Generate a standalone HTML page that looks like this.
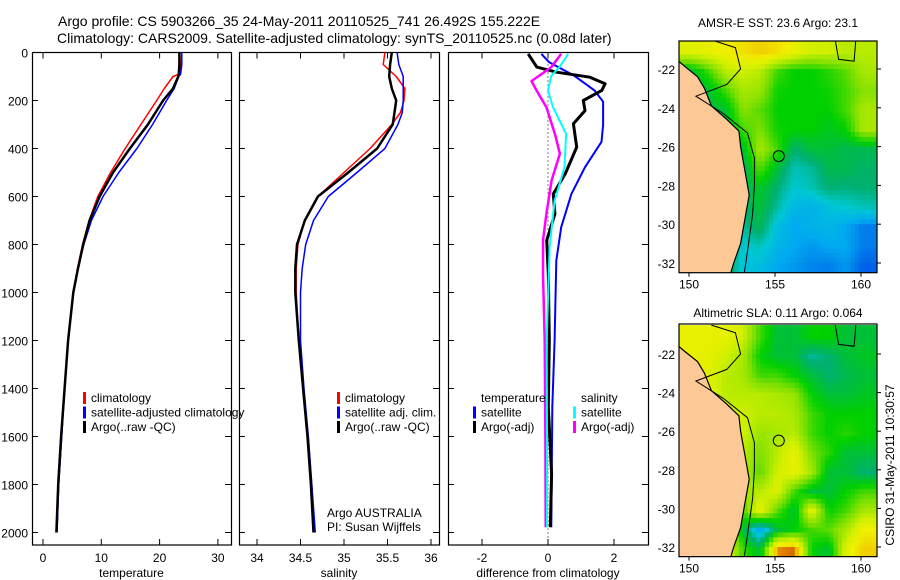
<!DOCTYPE html>
<html><head><meta charset="utf-8"><style>
body{margin:0;background:#fff;}
svg{display:block;font-family:"Liberation Sans",sans-serif;}
</style></head><body>
<svg id="fig" width="900" height="580" viewBox="0 0 900 580" xmlns="http://www.w3.org/2000/svg">
<rect width="900" height="580" fill="#fff"/>
<text x="58" y="26" font-size="14">Argo profile: CS 5903266_35 24-May-2011 20110525_741 26.492S 155.222E</text>
<text x="57" y="43" font-size="14">Climatology: CARS2009. Satellite-adjusted climatology: synTS_20110525.nc (0.08d later)</text>
<g id="plots"></g>
<text x="778" y="27" font-size="12" text-anchor="middle">AMSR-E SST: 23.6 Argo: 23.1</text>
<text x="778" y="317" font-size="12" text-anchor="middle">Altimetric SLA: 0.11 Argo: 0.064</text>
<text x="0" y="0" font-size="12" text-anchor="middle" transform="translate(894,465) rotate(-90)">CSIRO 31-May-2011 10:30:57</text>
</svg>
<script>
// ---------- profile data ----------
const tDepth=[0,50,90,100,150,200,300,400,500,600,700,800,900,1000,1200,1400,1600,1800,2000];
const tClim=[23.8,23.7,23.4,22.3,20.8,19.5,16.8,14.1,11.6,9.4,7.9,6.8,5.9,5.2,4.3,3.7,3.2,2.7,2.4];
const tSat=[23.8,23.8,23.6,23.3,22.5,21.2,18.8,16.1,13.0,10.3,8.3,7.0,6.0,5.2,4.3,3.7,3.2,2.7,2.4];
const tArgo=[23.4,23.4,23.3,23.2,22.3,20.6,18.0,14.9,12.0,9.7,8.0,6.9,6.0,5.2,4.3,3.7,3.1,2.6,2.3];
const sDepth=[0,50,100,150,200,250,300,400,500,600,700,800,900,1000,1200,1400,1600,1800,2000];
const sClim=[35.47,35.45,35.6,35.7,35.69,35.65,35.55,35.3,35.0,34.7,34.55,34.47,34.45,34.45,34.48,34.53,34.59,34.63,34.66];
const sSat=[35.61,35.63,35.68,35.68,35.68,35.67,35.62,35.47,35.15,34.82,34.65,34.56,34.52,34.5,34.5,34.54,34.59,34.63,34.67];
const sArgo=[35.55,35.53,35.52,35.55,35.6,35.58,35.56,35.38,35.05,34.7,34.55,34.46,34.44,34.44,34.48,34.53,34.58,34.62,34.65];
const dTArgoDepth=[6,61,82,103,130,158,200,242,297,394,506,589,672,783,922,1200,1478,1756,1978];
const dTArgo=[-0.6,-0.34,0.26,1.27,1.73,1.63,1.07,1.12,0.77,0.87,0.52,0.16,0.21,-0.04,0.01,0.04,0.01,0.11,0.07];
const dTSatDepth=[6,40,97,158,205,303,372,478,589,728,867,1200,1478,1978];
const dTSat=[-0.2,0.03,0.8,1.41,1.67,1.67,1.62,1.12,0.71,0.4,0.25,0.2,0.13,0.1];
const dSSatDepth=[6,61,97,158,228,339,478,617,811,1200,1617,1978];
const dSSat=[0.61,0.35,0.1,0,0.15,0.55,0.5,0.2,0.05,-0.04,-0.03,-0.03];
const dSArgoDepth=[6,61,119,158,228,339,422,533,672,783,922,1200,1617,1978];
const dSArgo=[0.4,0.1,-0.5,-0.35,-0.05,0.21,0.36,0.11,-0.05,-0.15,-0.15,-0.1,-0.08,-0.07];
const depthTicks=[0,200,400,600,800,1000,1200,1400,1600,1800,2000];
const tTicks=[0,10,20,30];
const sTicks=[34,34.5,35,35.5,36];
const sTickLabels=["34","34.5","35","35.5","36"];
const dTicks=[-2,0,2];
// ---------- map data (rows lat -21..-32, cols lon 150..160) ----------
const mapLons=[150,151,152,153,154,155,156,157,158,159,160];
const mapLats=[-21,-22,-23,-24,-25,-26,-27,-28,-29,-30,-31,-32];
const sstVals=[
[.78,.8,.82,.85,.88,.85,.8,.75,.75,.72,.72],
[.5,.6,.72,.75,.72,.6,.55,.55,.58,.62,.7],
[.5,.5,.6,.7,.68,.56,.55,.55,.56,.6,.66],
[.5,.5,.5,.66,.62,.55,.55,.55,.55,.6,.7],
[.5,.5,.5,.6,.65,.56,.55,.55,.52,.55,.7],
[.5,.5,.5,.5,.7,.6,.45,.5,.5,.48,.48],
[.5,.5,.5,.45,.62,.5,.4,.42,.48,.48,.46],
[.5,.5,.5,.45,.52,.45,.38,.4,.45,.44,.45],
[.5,.5,.5,.45,.5,.42,.33,.32,.36,.38,.4],
[.5,.5,.5,.42,.48,.35,.3,.32,.33,.3,.25],
[.5,.5,.5,.38,.4,.33,.3,.28,.3,.3,.25],
[.5,.5,.5,.36,.35,.3,.28,.26,.25,.28,.22]];
const slaVals=[
[.8,.8,.8,.75,.6,.5,.5,.55,.55,.5,.5],
[.8,.8,.75,.7,.55,.5,.5,.42,.45,.5,.52],
[.8,.78,.72,.7,.6,.6,.55,.5,.45,.48,.5],
[.8,.78,.72,.72,.72,.7,.68,.55,.5,.5,.52],
[.8,.8,.75,.75,.72,.72,.7,.6,.55,.55,.55],
[.8,.8,.8,.75,.68,.7,.72,.6,.55,.58,.55],
[.8,.8,.8,.72,.65,.72,.8,.65,.58,.5,.5],
[.8,.8,.8,.72,.62,.75,.8,.7,.5,.5,.45],
[.8,.8,.8,.68,.72,.78,.6,.5,.5,.55,.6],
[.8,.8,.8,.6,.8,.62,.5,.8,.55,.6,.7],
[.8,.8,.8,.5,.3,.5,.55,.6,.62,.7,.82],
[.8,.8,.8,.6,.5,.92,.95,.55,.5,.78,.88]];
const latTicks=[-22,-24,-26,-28,-30,-32];
const lonTicks=[150,155,160];
const argoLon=155.22, argoLat=-26.49;

const NS="http://www.w3.org/2000/svg";
const root=document.getElementById('plots');
function mk(tag,attrs,parent){const e=document.createElementNS(NS,tag);for(const k in attrs)e.setAttribute(k,attrs[k]);(parent||root).appendChild(e);return e;}
const Y0=52.5,Y1=545,yD=d=>52.5+d*0.24;

function panel(name,L,R,xs,ticks,labels,xlabel,showY){
  const g=mk('g',{});
  
  
  mk('rect',{x:L+0.5,y:Y0,width:R-L,height:Y1-Y0,fill:'none',stroke:'#000','stroke-width':1.2},g);
  depthTicks.forEach(d=>{const y=yD(d);
    mk('line',{x1:L,x2:L+6,y1:y,y2:y,stroke:'#000'},g);
    mk('line',{x1:R-6,x2:R,y1:y,y2:y,stroke:'#000'},g);
    if(showY){const t=mk('text',{x:28,y:y+5,'font-size':12,'text-anchor':'end'},g);t.textContent=d;
      
      }
  });
  ticks.forEach((v,i)=>{const x=xs(v);
    mk('line',{x1:x,x2:x,y1:Y0,y2:Y0+6,stroke:'#000'},g);
    mk('line',{x1:x,x2:x,y1:Y1-6,y2:Y1,stroke:'#000'},g);
    const t=mk('text',{x:x,y:562,'font-size':12,'text-anchor':'middle'},g);t.textContent=labels[i];
    
    
  });
  const xl=mk('text',{x:(L+R)/2,y:577,'font-size':12,'text-anchor':'middle'},g);xl.textContent=xlabel;
  
  
  return g;
}
function line(g,name,xs,depths,vals,color,w){
  const d=vals.map((v,i)=>(i?'L':'M')+xs(v).toFixed(1)+','+yD(depths[i]).toFixed(1)).join('');
  const p=mk('path',{d:d,fill:'none',stroke:color,'stroke-width':w,'stroke-linejoin':'round'},g);
  
  
}
function legend(g,x,y,items){
  items.forEach((it,i)=>{
    if(it.c)mk('rect',{x:x,y:y+i*14.5-10,width:3,height:12,fill:it.c},g);
    const t=mk('text',{x:x+8,y:y+i*14.5,'font-size':12},g);t.textContent=it.t;
    
    
  });
}
// temperature panel
const xT=v=>43+5.83*v;
let g1=panel('temperature-panel',32,231,xT,tTicks,tTicks.map(String),'temperature',true);
line(g1,'temp-climatology-line',xT,tDepth,tClim,'#f00',1.5);
line(g1,'temp-satellite-line',xT,tDepth,tSat,'#00f',1.5);
line(g1,'temp-argo-line',xT,tDepth,tArgo,'#000',2.5);
legend(g1,83,402,[{c:'#f00',t:'climatology'},{c:'#00f',t:'satellite-adjusted climatology'},{c:'#000',t:'Argo(..raw -QC)'}]);
// salinity panel
const xS=v=>257+87*(v-34);
let g2=panel('salinity-panel',239,439,xS,sTicks,sTickLabels,'salinity',false);
line(g2,'sal-climatology-line',xS,sDepth,sClim,'#f00',1.5);
line(g2,'sal-satellite-line',xS,sDepth,sSat,'#00f',1.5);
line(g2,'sal-argo-line',xS,sDepth,sArgo,'#000',2.5);
legend(g2,337,402,[{c:'#f00',t:'climatology'},{c:'#00f',t:'satellite adj. clim.'},{c:'#000',t:'Argo(..raw -QC)'}]);
let ag=mk('text',{x:327,y:517,'font-size':12},g2);ag.textContent='Argo AUSTRALIA';


let pi=mk('text',{x:327,y:531,'font-size':12},g2);pi.textContent='PI: Susan Wijffels';


// difference panel
const xDf=v=>548+33*v;
let g3=panel('difference-panel',448,648,xDf,dTicks,dTicks.map(String),'difference from climatology',false);
mk('line',{x1:xDf(0),x2:xDf(0),y1:Y0,y2:Y1,stroke:'#000','stroke-dasharray':'1,3'},g3);
line(g3,'diff-temp-satellite-line',xDf,dTSatDepth,dTSat,'#00f',2);
line(g3,'diff-temp-argo-line',xDf,dTArgoDepth,dTArgo,'#000',3);
line(g3,'diff-sal-argo-line',xDf,dSArgoDepth,dSArgo,'#f0f',2.5);
line(g3,'diff-sal-satellite-line',xDf,dSSatDepth,dSSat,'#0ff',2);
legend(g3,473,402,[{c:null,t:'temperature'},{c:'#00f',t:'satellite'},{c:'#000',t:'Argo(-adj)'}]);
legend(g3,573,402,[{c:null,t:'salinity'},{c:'#0ff',t:'satellite'},{c:'#f0f',t:'Argo(-adj)'}]);

// ---------- maps ----------
const cstops=[[0,[0,0,170]],[.2,[0,80,230]],[.3,[0,170,240]],[.38,[0,200,210]],[.45,[0,176,112]],[.55,[0,208,0]],[.65,[128,224,0]],[.75,[208,240,0]],[.82,[240,240,0]],[.88,[240,208,0]],[.93,[224,128,0]],[1,[192,48,0]]];
function cmap(v){for(let i=1;i<cstops.length;i++){if(v<=cstops[i][0]){const a=cstops[i-1],b=cstops[i],f=(v-a[0])/(b[0]-a[0]);const c=a[1].map((x,k)=>Math.round(x+(b[1][k]-x)*f));return `rgb(${c})`;}}return 'rgb(192,48,0)';}
const coast=[[149.4,-21.6],[149.8,-21.9],[150.5,-22.4],[150.9,-23],[151.3,-23.9],[152.2,-24.6],[152.9,-25.2],[153.0,-26],[153.3,-27.5],[153.5,-28.5],[153.2,-30],[153,-31],[152.6,-32],[152.4,-32.6],[149.4,-32.6]];
const shelf=[[151.3,-20.5],[152.7,-20.9],[153,-22],[152.2,-22.8],[150.4,-23.4],[152,-24.3],[153.4,-25.3],[153.8,-26.6],[153.8,-28],[153.7,-29.5],[153.3,-32],[153.2,-32.6]];
const eastContour=[[158.5,-20.5],[158.7,-21.5],[159.6,-21.6],[159.7,-20.5]];
function map(name,vals,top,yAt22,yAt32){
  const L=679,R=877;
  const lx=v=>689+(v-150)*17.2, ly=v=>yAt22+(-22-v)*(yAt32-yAt22)/10;
  const bottom=ly(-32.5);
  const g=mk('g',{});
  
  
  const cid='clip'+name;
  const cp=mk('clipPath',{id:cid},g);mk('rect',{x:L,y:top,width:R-L,height:bottom-top},cp);
  const inner=mk('g',{'clip-path':`url(#${cid})`},g);
  const step=0.25;
  for(let lat=-20.5;lat>-32.6;lat-=step){for(let lon=149.4;lon<161;lon+=step){
    let fr=Math.min(Math.max(-21-lat,0),11),fc=Math.min(Math.max(lon-150,0),10);
    let r0=Math.floor(fr),c0=Math.floor(fc),r1=Math.min(r0+1,11),c1=Math.min(c0+1,10),a=fr-r0,b=fc-c0;
    let v=vals[r0][c0]*(1-a)*(1-b)+vals[r0][c1]*(1-a)*b+vals[r1][c0]*a*(1-b)+vals[r1][c1]*a*b;
    const c=mk('rect',{x:lx(lon).toFixed(1),y:ly(lat).toFixed(1),width:(step*17.2+0.6).toFixed(1),height:(step*(yAt32-yAt22)/10+0.6).toFixed(1),fill:cmap(v)},inner);
    
    
  }}
  const land=mk('path',{d:coast.map((p,i)=>(i?'L':'M')+lx(p[0]).toFixed(1)+','+ly(p[1]).toFixed(1)).join('')+'Z',fill:'#fcc896',stroke:'#000','stroke-width':1.2},inner);
  
  
  const pathOf=pts=>pts.map((p,i)=>(i?'L':'M')+lx(p[0]).toFixed(1)+','+ly(p[1]).toFixed(1)).join('');
  mk('path',{d:pathOf(shelf),fill:'none',stroke:'#000','stroke-width':1},inner);
  mk('path',{d:pathOf(eastContour),fill:'none',stroke:'#000','stroke-width':1},inner);
  const ac=mk('circle',{cx:lx(argoLon),cy:ly(argoLat),r:5.5,fill:'none',stroke:'#000','stroke-width':1},inner);
  
  
  mk('rect',{x:L,y:top,width:R-L,height:bottom-top,fill:'none',stroke:'#000','stroke-width':1.2},g);
  latTicks.forEach(v=>{const y=ly(v);mk('line',{x1:R,x2:R+4,y1:y,y2:y,stroke:'#000'},g);
    const t=mk('text',{x:L-4,y:y+5,'font-size':12,'text-anchor':'end'},g);t.textContent=v;
    
    });
  lonTicks.forEach(v=>{const x=lx(v);mk('line',{x1:x,x2:x,y1:bottom,y2:bottom+4,stroke:'#000'},g);
    const t=mk('text',{x:x,y:bottom+16,'font-size':12,'text-anchor':'middle'},g);t.textContent=v;
    
    });
}
map('sst-map',sstVals,41,69,263);
map('sla-map',slaVals,324,354,547);
</script>
</body></html>
